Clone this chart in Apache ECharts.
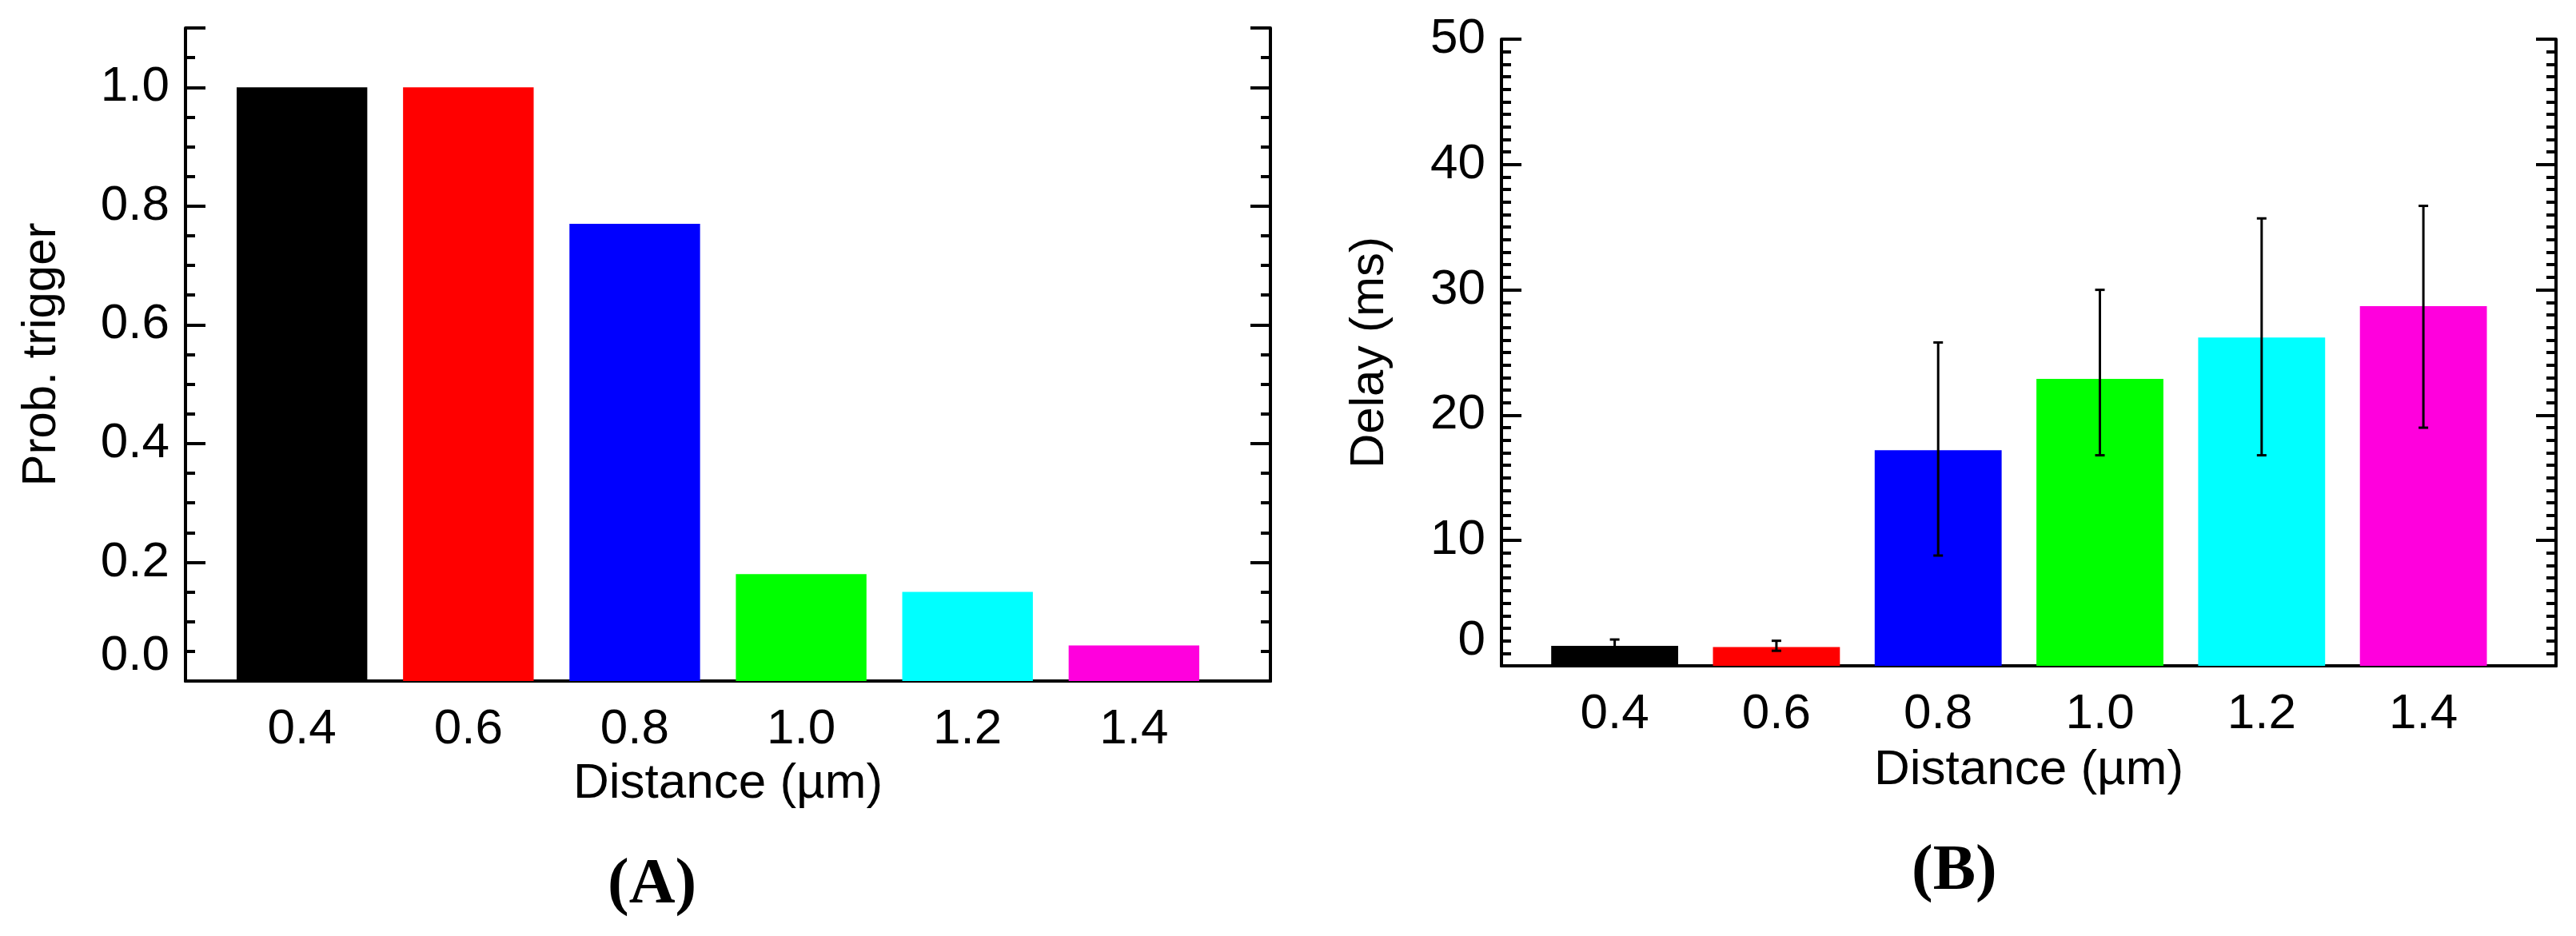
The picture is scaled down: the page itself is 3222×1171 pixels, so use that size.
<!DOCTYPE html>
<html><head><meta charset="utf-8">
<script src="https://cdn.jsdelivr.net/npm/echarts@6/dist/echarts.min.js"></script>
<style>html,body{margin:0;padding:0;background:#fff}#c{width:3222px;height:1171px}</style>
</head><body><div id="c"></div>
<script>
const distances = [0.4, 0.6, 0.8, 1.0, 1.2, 1.4];
const colors = ['#000000', '#ff0000', '#0000ff', '#00ff00', '#00ffff', '#ff00dd'];
const probTrigger = [1.0, 1.0, 0.77, 0.18, 0.15, 0.06];
const delayMean = [1.6, 1.5, 17.2, 22.9, 26.2, 28.7];
const delayLow = [1.2, 1.2, 8.8, 16.8, 16.8, 19.0];
const delayHigh = [2.1, 2.0, 25.8, 30.0, 35.7, 36.7];
const xTicks = [0.4, 0.6, 0.8, 1.0, 1.2, 1.4];
const BAR_W = 0.157;

const FONT = 'Liberation Sans';
const chart = echarts.init(document.getElementById('c'));

function xAxes(gi, nameGap) {
  return [{
    type: 'value', gridIndex: gi, position: 'bottom', min: 0.26, max: 1.564,
    axisLine: {show: true, lineStyle: {color: '#000', width: 4}},
    axisTick: {show: true, inside: true, length: 15, lineStyle: {width: 3, color: '#000'}, customValues: xTicks},
    axisLabel: {show: true, customValues: xTicks, formatter: v => v.toFixed(1), fontFamily: FONT, fontSize: 62, color: '#000', margin: 30},
    splitLine: {show: false},
    name: 'Distance (\u00b5m)', nameLocation: 'middle', nameGap: nameGap,
    nameTextStyle: {fontFamily: FONT, fontSize: 62, color: '#000'}
  }, {
    type: 'value', gridIndex: gi, position: 'top', min: 0.26, max: 1.564,
    axisLine: {show: true, lineStyle: {color: '#000', width: 4}},
    axisTick: {show: false}, axisLabel: {show: false}, splitLine: {show: false}
  }];
}
function yAxes(gi, max, interval, split, name, nameGap, dec) {
  const common = {
    type: 'value', gridIndex: gi, min: 0, max: max, interval: interval,
    axisLine: {show: true, lineStyle: {color: '#000', width: 4}},
    axisTick: {show: true, inside: true, length: 25, lineStyle: {width: 4, color: '#000'}},
    minorTick: {show: true, splitNumber: split, length: 12, lineStyle: {width: 4, color: '#000'}},
    splitLine: {show: false}, minorSplitLine: {show: false}
  };
  return [Object.assign({}, common, {
    position: 'left',
    axisLabel: {show: true, fontFamily: FONT, fontSize: 62, color: '#000', margin: 20,
      showMaxLabel: max % interval === 0,
      formatter: v => v.toFixed(dec), verticalAlignMinLabel: 'bottom'},
    name: name, nameLocation: 'middle', nameGap: nameGap, nameRotate: 90,
    nameTextStyle: {fontFamily: FONT, fontSize: 60, color: '#000'}
  }), Object.assign({}, common, {position: 'right', axisLabel: {show: false}})];
}

function barSeries(xi, yi, values) {
  return {
    type: 'custom', xAxisIndex: xi, yAxisIndex: yi,
    data: distances.map((d, i) => [d, values[i], i]),
    renderItem: (params, api) => {
      const x = api.value(0), y = api.value(1), i = api.value(2);
      const p0 = api.coord([x - BAR_W / 2, y]);
      const p1 = api.coord([x + BAR_W / 2, 0]);
      return {type: 'rect', shape: {x: p0[0], y: p0[1], width: p1[0] - p0[0], height: p1[1] - p0[1]},
        style: {fill: colors[i]}};
    }
  };
}
function errSeries(xi, yi) {
  return {
    type: 'custom', xAxisIndex: xi, yAxisIndex: yi, z: 5,
    data: distances.map((d, i) => [d, delayLow[i], delayHigh[i]]),
    renderItem: (params, api) => {
      const x = api.value(0);
      const lo = api.coord([x, api.value(1)]), hi = api.coord([x, api.value(2)]);
      const c = 6, st = {stroke: '#000', lineWidth: 3};
      return {type: 'group', children: [
        {type: 'line', shape: {x1: lo[0], y1: lo[1], x2: hi[0], y2: hi[1]}, style: st},
        {type: 'line', shape: {x1: lo[0] - c, y1: lo[1], x2: lo[0] + c, y2: lo[1]}, style: st},
        {type: 'line', shape: {x1: hi[0] - c, y1: hi[1], x2: hi[0] + c, y2: hi[1]}, style: st}
      ]};
    }
  };
}

const xa = xAxes(0, 98), xb = xAxes(1, 100);
chart.setOption({
  animation: false,
  backgroundColor: '#fff',
  grid: [
    {left: 232, right: 1633, top: 35, bottom: 319},
    {left: 1878, right: 25, top: 49, bottom: 338}
  ],
  xAxis: [xa[0], xa[1], xb[0], xb[1]],
  yAxis: [...yAxes(0, 1.1, 0.2, 4, 'Prob. trigger', 150, 1), ...yAxes(1, 50, 10, 10, 'Delay (ms)', 135, 0)],
  series: [
    barSeries(0, 0, probTrigger),
    barSeries(2, 2, delayMean),
    errSeries(2, 2)
  ],
  graphic: [
    {type: 'text', left: 760, top: 1068, style: {text: '(A)', font: 'bold 80px "Liberation Serif"', fill: '#000'}},
    {type: 'text', left: 2391, top: 1051, style: {text: '(B)', font: 'bold 80px "Liberation Serif"', fill: '#000'}}
  ]
});
</script></body></html>
